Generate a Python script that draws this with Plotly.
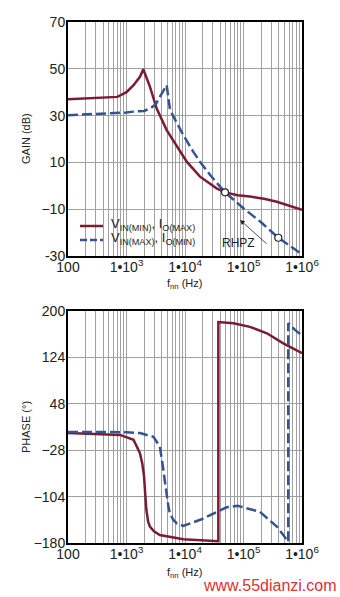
import plotly.graph_objects as go
from plotly.subplots import make_subplots

# ---------------- data ----------------
# Gain, V_IN(MIN), I_O(MAX)  (red)
gain_red_f = [100, 300, 700, 1000, 1318, 1698, 1936, 2512, 3281, 4864, 7244, 10715,
              18030, 34670, 48310, 79430, 128800, 223900, 371500, 707900, 1000000]
gain_red_db = [37.0, 37.4, 38.0, 40.0, 43.0, 46.6, 49.8, 42.4, 33.0, 23.8, 16.7, 10.3,
               3.9, -1.1, -2.8, -4.0, -4.6, -5.5, -6.8, -8.9, -10.3]

# Gain, V_IN(MAX), I_O(MIN)  (blue dashed)
gain_blue_f = [100, 200, 500, 1000, 1318, 1995, 2512, 3162, 3715, 4864, 5546, 9333,
               13800, 18030, 26920, 39810, 48310, 100000, 199500, 393600, 871000, 1000000]
gain_blue_db = [30.2, 30.5, 30.9, 31.3, 31.7, 32.0, 33.0, 34.8, 38.0, 43.0, 32.4, 21.7,
                14.6, 10.3, 4.6, -0.4, -2.8, -9.6, -15.6, -22.2, -28.2, -29.3]

# Phase, red
phase_red_f = [100, 776, 1318, 1698, 1862, 1995, 2089, 2188, 2344, 2512, 2951, 3715,
               9333, 34670, 37150, 37150, 67600, 128800, 251200, 478600, 933000, 1000000]
phase_red_deg = [0, -3, -11, -33, -50, -71, -100, -126, -145, -153, -161, -167,
                 -174, -176, -177, 182, 180, 174, 163.5, 147, 133, 131]

# Phase, blue dashed
phase_blue_f = [100, 1000, 1698, 2884, 3715, 3981, 4266, 4571, 4898, 5248, 5495, 6310,
                7244, 9333, 18200, 51300, 79430, 190500, 371500, 549500, 582100, 582100,
                758600, 1000000]
phase_blue_deg = [2, 1.5, 0, -6, -22, -38, -60, -82, -104, -122, -131, -142,
                  -148, -152, -142, -121.5, -119, -129, -153, -175, -178, 180,
                  169, 160]

# marked points on gain plot
mark_f = [48310, 393600]
mark_db = [-2.8, -22.2]

x_tickvals = [100, 1000, 10000, 100000, 1000000]
x_ticktext = ["100", "1•10<sup>3</sup>", "1•10<sup>4</sup>", "1•10<sup>5</sup>", "1•10<sup>6</sup>"]
gain_ticks = [70, 50, 30, 10, -10, -30]
gain_ticktext = ["70", "50", "30", "10", "−10", "-30"]
phase_ticks = [200, 124, 48, -28, -104, -180]
phase_ticktext = ["200", "124", "48", "−28", "−104", "−180"]

legend_names = ["V<sub>IN(MIN)</sub>, I<sub>O(MAX)</sub>",
                "V<sub>IN(MAX)</sub>, I<sub>O(MIN)</sub>"]

RED = "#7a1c33"
BLUE = "#34538f"
GRID = "#a0a0a0"
TXT = "#222222"
FONT = "Liberation Sans, Arial, sans-serif"

minor_vals = [m * 10 ** e for e in range(2, 6) for m in range(2, 10)]

W, H = 340, 597
def px(x):
    return x / W
def py(y):
    return 1 - y / H

# ---------------- figure ----------------
fig = make_subplots(rows=2, cols=1)

fig.add_trace(go.Scatter(x=gain_red_f, y=gain_red_db, mode="lines", name=legend_names[0],
                         showlegend=False, line=dict(color=RED, width=2.5)), row=1, col=1)
fig.add_trace(go.Scatter(x=gain_blue_f, y=gain_blue_db, mode="lines", name=legend_names[1],
                         showlegend=False,
                         line=dict(color=BLUE, width=2.5, dash="10px,4px")), row=1, col=1)
fig.add_trace(go.Scatter(x=mark_f, y=mark_db, mode="markers", showlegend=False,
                         marker=dict(size=7, color="white",
                                     line=dict(color=TXT, width=1.2))), row=1, col=1)
fig.add_trace(go.Scatter(x=phase_red_f, y=phase_red_deg, mode="lines", showlegend=False,
                         line=dict(color=RED, width=2.5)), row=2, col=1)
fig.add_trace(go.Scatter(x=phase_blue_f, y=phase_blue_deg, mode="lines", showlegend=False,
                         line=dict(color=BLUE, width=2.5, dash="10px,4px")), row=2, col=1)

xdom = [px(68), px(302)]
for i, dom in [(1, [py(256), py(22)]), (2, [py(543), py(311)])]:
    xa = "xaxis" if i == 1 else "xaxis2"
    ya = "yaxis" if i == 1 else "yaxis2"
    fig.layout[xa].update(
        type="log", range=[2, 6], domain=xdom, automargin=False,
        tickvals=x_tickvals, ticktext=x_ticktext, ticks="", ticklen=0,
        ticklabelstandoff=-3,
        showgrid=True, gridcolor=GRID, gridwidth=1,
        minor=dict(tickvals=minor_vals, showgrid=True, gridcolor=GRID, gridwidth=1, ticks=""),
        showline=True, linecolor="black", linewidth=2, mirror=True,
        tickfont=dict(size=14, color=TXT, family=FONT),
        zeroline=False,
    )
    if i == 1:
        fig.layout[ya].update(range=[-30, 70], tickvals=gain_ticks, ticktext=gain_ticktext)
    else:
        fig.layout[ya].update(range=[-180, 200], tickvals=phase_ticks, ticktext=phase_ticktext)
    fig.layout[ya].update(
        domain=dom, ticks="", ticklen=0, ticklabelstandoff=-2,
        showgrid=True, gridcolor=GRID, gridwidth=1,
        automargin=False,
        showline=True, linecolor="black", linewidth=2, mirror=True,
        tickfont=dict(size=14, color=TXT, family=FONT), zeroline=False,
    )

# manual legend (white box, line samples, labels)
shapes = [
    dict(type="rect", xref="paper", yref="paper", x0=px(69), x1=px(199), y0=py(248), y1=py(211),
         fillcolor="white", line=dict(width=0), layer="between"),
    dict(type="line", xref="paper", yref="paper", x0=px(80), x1=px(103), y0=py(226), y1=py(226),
         line=dict(color=RED, width=2.5)),
    dict(type="line", xref="paper", yref="paper", x0=px(80), x1=px(103), y0=py(240), y1=py(240),
         line=dict(color=BLUE, width=2.5, dash="7px,3px")),
]

def ann(text, x, y, size, color=TXT, angle=0, xanchor="center"):
    return dict(text=text, xref="paper", yref="paper", x=px(x), y=py(y),
                xanchor=xanchor, yanchor="middle", textangle=angle, showarrow=False,
                font=dict(size=size, color=color, family=FONT))

annos = [
    ann(legend_names[0], 109, 225, 13, xanchor="left"),
    ann(legend_names[1], 109, 239, 13, xanchor="left"),
    ann("GAIN (dB)", 26, 139, 11, angle=-90),
    ann("PHASE (°)", 26, 427, 11, angle=-90),
    ann("f<sub>nn</sub> (Hz)", 185, 284, 11),
    ann("f<sub>nn</sub> (Hz)", 185, 573, 11),
    dict(text="RHPZ", xref="x", yref="y", x=4.906, y=-24.4, showarrow=False,
         font=dict(size=12, color=TXT, family=FONT)),
    dict(text="", xref="x", yref="y", x=4.94, y=-14.6, ax=28, ay=25,
         showarrow=True, arrowhead=2, arrowsize=1.2, arrowwidth=0.8, arrowcolor=TXT),
    ann("www.55dianzi.com", 270, 585, 16, color="#e0302f"),
]

fig.update_layout(
    width=W, height=H, margin=dict(l=0, r=0, t=0, b=0, pad=0, autoexpand=False),
    paper_bgcolor="white", plot_bgcolor="white",
    showlegend=False,
    shapes=shapes,
    annotations=annos,
)

fig.write_html("out.html")
